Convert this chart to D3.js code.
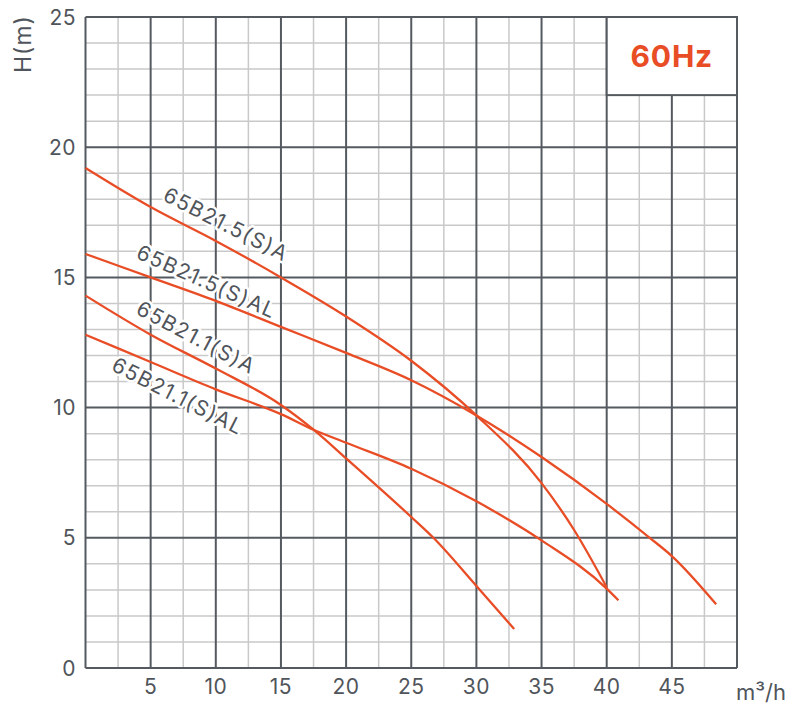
<!DOCTYPE html>
<html><head><meta charset="utf-8">
<script src="https://cdn.jsdelivr.net/npm/d3@7"></script>
<style>body{margin:0;background:#fff}svg{display:block}</style>
</head><body>
<svg id="c" width="792" height="704"></svg>
<script>
const xTicks = [5,10,15,20,25,30,35,40,45];
const yTicks = [0,5,10,15,20,25];
const seriesNames = ["65B21.5(S)A","65B21.5(S)AL","65B21.1(S)A","65B21.1(S)AL"];
const s1 = [[0,19.2],[5,17.7],[10,16.4],[15,15.0],[20,13.5],[25,11.8],[30,9.7],[35,7.1],[37.5,5.3],[40,3.1]];
const s2 = [[0,15.9],[5,15.0],[10,14.1],[15,13.1],[20,12.1],[25,11.05],[30,9.7],[35,8.1],[40,6.3],[43.3,5.0],[45,4.3],[48.4,2.45]];
const s3 = [[0,14.3],[5,12.8],[10,11.5],[15,10.1],[17.5,9.15],[20,8.05],[25,5.8],[26.7,5.0],[30,3.15],[32.9,1.5]];
const s4 = [[0,12.8],[5,11.75],[10,10.7],[15,9.75],[17.5,9.15],[20,8.65],[25,7.65],[30,6.4],[35,4.9],[40,3.05],[40.9,2.6]];
const series = [s1,s2,s3,s4];
// label anchor (x, H) and angle
const labelPos = [[10.8,17.05,27],[9.3,14.85,24],[8.5,12.7,28],[7.1,10.45,27]];

const svg = d3.select("#c");
const x = d3.scaleLinear().domain([0,50]).range([85.5,737]);
const y = d3.scaleLinear().domain([0,25]).range([668,17]);
const majorC = "#555a60", minorC = "#c9c9c9", txtC = "#50555b", red = "#e84d26";
const font = "Inter, 'Noto Sans', sans-serif";

const g = svg.append("g");
// minor grid
g.selectAll(".mx").data(d3.range(0,50.01,2.5).filter(v=>v%5!==0)).join("line")
  .attr("x1",d=>x(d)).attr("x2",d=>x(d)).attr("y1",y(0)).attr("y2",y(25))
  .attr("stroke",minorC).attr("stroke-width",1.5);
g.selectAll(".my").data(d3.range(0,25.01,1).filter(v=>v%5!==0)).join("line")
  .attr("y1",d=>y(d)).attr("y2",d=>y(d)).attr("x1",x(0)).attr("x2",x(50))
  .attr("stroke",minorC).attr("stroke-width",1.5);
// major grid
g.selectAll(".Mx").data(d3.range(0,50.01,5)).join("line")
  .attr("x1",d=>x(d)).attr("x2",d=>x(d)).attr("y1",y(0)).attr("y2",y(25))
  .attr("stroke",majorC).attr("stroke-width",2);
g.selectAll(".My").data(d3.range(0,25.01,5)).join("line")
  .attr("y1",d=>y(d)).attr("y2",d=>y(d)).attr("x1",x(0)).attr("x2",x(50))
  .attr("stroke",majorC).attr("stroke-width",2);
// 60Hz box
g.append("rect").attr("x",x(40)).attr("y",y(25)).attr("width",x(50)-x(40)).attr("height",y(22)-y(25))
  .attr("fill","#fff").attr("stroke",majorC).attr("stroke-width",2);
g.append("text").attr("x",(x(40)+x(50))/2).attr("y",(y(22)+y(25))/2).attr("dy","0.36em")
  .attr("text-anchor","middle").attr("font-family",font).attr("font-weight","700")
  .attr("font-size",30).attr("letter-spacing",0.8).attr("fill",red).text("60Hz");

// axes labels
svg.append("g").selectAll("text").data(yTicks).join("text")
  .attr("x",76).attr("y",d=>y(d)).attr("dy","0.36em").attr("text-anchor","end")
  .attr("font-family",font).attr("font-size",21).attr("letter-spacing",0.5).attr("fill",txtC).text(d=>d);
svg.append("g").selectAll("text").data(xTicks).join("text")
  .attr("x",d=>x(d)).attr("y",686).attr("dy","0.36em").attr("text-anchor","middle")
  .attr("font-family",font).attr("font-size",21).attr("letter-spacing",0.5).attr("fill",txtC).text(d=>d);
svg.append("text").attr("x",786).attr("y",692).attr("dy","0.36em").attr("text-anchor","end")
  .attr("font-family",font).attr("font-size",22).attr("fill",txtC).text("m³/h");
svg.append("text").attr("transform","translate(23,44) rotate(-90)").attr("dy","0.36em")
  .attr("text-anchor","middle").attr("font-family",font).attr("font-size",23).attr("letter-spacing",1).attr("fill",txtC).text("H(m)");

// labels
svg.append("g").selectAll("text").data(seriesNames).join("text")
  .attr("transform",(d,i)=>`translate(${x(labelPos[i][0])},${y(labelPos[i][1])}) rotate(${labelPos[i][2]})`)
  .attr("text-anchor","middle").attr("dy","0.36em")
  .attr("font-family",font).attr("font-size",21).attr("letter-spacing",1.3).attr("fill",txtC)
  .attr("stroke","#fff").attr("stroke-width",5).attr("paint-order","stroke").attr("stroke-linejoin","round")
  .text(d=>d);

// curves
const line = d3.line().x(d=>x(d[0])).y(d=>y(d[1])).curve(d3.curveMonotoneX);
svg.append("g").selectAll("path").data(series).join("path")
  .attr("d",line).attr("fill","none").attr("stroke",red).attr("stroke-width",2.3);
</script>
</body></html>
